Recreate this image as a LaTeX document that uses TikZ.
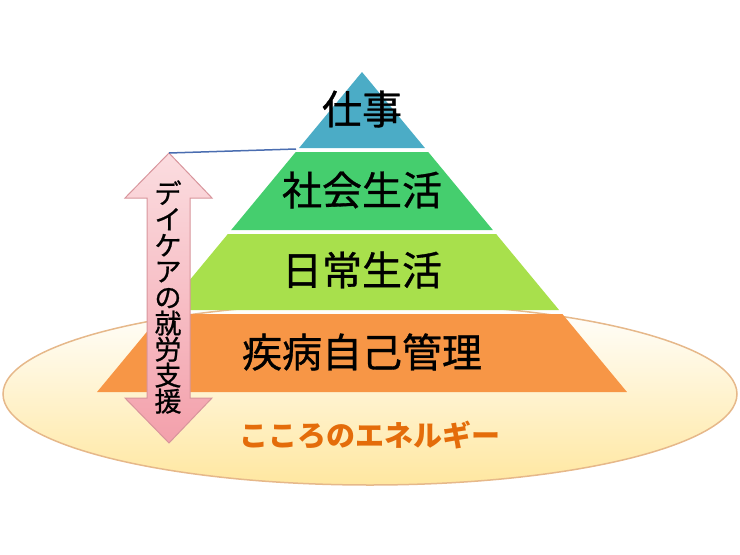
\documentclass[tikz,border=0pt]{standalone}
\usepackage{fontspec}
\newfontfamily\jp[FakeBold=0.8]{Noto Sans CJK JP}
\newfontfamily\jpb{Noto Sans CJK JP}
\definecolor{shigotoc}{HTML}{4BACC6}
\definecolor{shakaic}{HTML}{45CE6E}
\definecolor{nichijoc}{HTML}{A8E04C}
\definecolor{jikoc}{HTML}{F79646}
\definecolor{energyline}{HTML}{E6B88A}
\definecolor{energyfill}{HTML}{FFE7A0}
\definecolor{energytext}{HTML}{E46C0A}
\definecolor{shienline}{HTML}{D8959C}
\definecolor{shientop}{HTML}{FBDDE0}
\definecolor{shienbottom}{HTML}{F3A0AB}
\definecolor{kyokai}{HTML}{4A6DB0}
\begin{document}
\begin{tikzpicture}[x=1pt, y=-1pt,
	layer/.style = {font=\jp\fontsize{40}{40}\selectfont},
	shienarrow/.style = {draw=shienline, line width=1pt, top color=shientop, bottom color=shienbottom}]
	\useasboundingbox (0,0) rectangle (740,555);
	\draw [draw=energyline, line width=1.5pt, top color=white, bottom color=energyfill] (370,394) ellipse [x radius=367, y radius=91];
	\foreach \ya/\yb/\col in {72/148/shigotoc, 152/230/shakaic, 234/310/nichijoc, 314/392/jikoc}
		\fill [\col] ({362-(\ya-72)*0.828},\ya) -- ({362+(\ya-72)*0.828},\ya) -- ({362+(\yb-72)*0.828},\yb) -- ({362-(\yb-72)*0.828},\yb) -- cycle;
	\node [layer] (shigoto) at (362,109) {仕事};
	\node [layer] (shakai) at (362,190) {社会生活};
	\node [layer] (nichijo) at (362,270) {日常生活};
	\node [layer] (jiko) at (362,352) {疾病自己管理};
	\node [font=\jpb\bfseries\fontsize{29}{29}\selectfont, text=energytext] (energy) at (370,435) {こころのエネルギー};
	\draw [shienarrow] (169,153) -- (212,198) -- (190,198) -- (190,398) -- (212,398) -- (169,443) -- (125,398) -- (147,398) -- (147,198) -- (125,198) -- cycle;
	\node [align=center, font=\jp\fontsize{27}{26}\selectfont] (shien) at (168,297) {デ\\イ\\ケ\\ア\\の\\就\\労\\支\\援};
	\coordinate (shientop) at (169,153);
	\coordinate (pyramidedge) at (296,149);
	\draw [kyokai, line width=1.5pt] (shientop) -- (pyramidedge);
\end{tikzpicture}
\end{document}
